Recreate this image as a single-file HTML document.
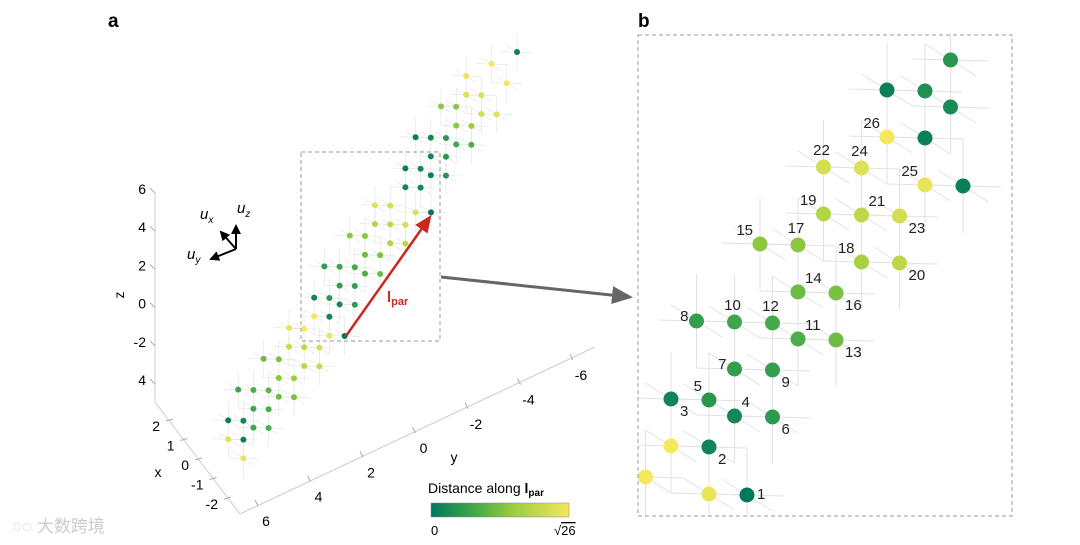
<!DOCTYPE html>
<html><head><meta charset="utf-8"><style>
html,body{margin:0;padding:0;background:#fff;}
svg{display:block;font-family:"Liberation Sans",Arial,sans-serif;}
</style></head><body>
<svg id="fig" width="1080" height="545" viewBox="0 0 1080 545" xmlns="http://www.w3.org/2000/svg">
<defs>
<linearGradient id="cbgrad" x1="0" x2="1" y1="0" y2="0">
<stop offset="0" stop-color="#00785a"/><stop offset="0.3" stop-color="#3da64a"/><stop offset="0.6" stop-color="#9ccd3e"/><stop offset="1" stop-color="#f4e85c"/>
</linearGradient>
<clipPath id="clipB"><rect x="638" y="35" width="374" height="481"/></clipPath>
<marker id="redhead" markerWidth="8" markerHeight="8" refX="6" refY="3" orient="auto"><path d="M0,0 L7,3 L0,6 Z" fill="#c8281e"/></marker>
<marker id="grayhead" markerWidth="8" markerHeight="8" refX="6" refY="3" orient="auto"><path d="M0,0 L7,3 L0,6 Z" fill="#666"/></marker>
<marker id="blackhead" markerWidth="6" markerHeight="6" refX="4" refY="2.5" orient="auto"><path d="M0,0 L5,2.5 L0,5 Z" fill="#000"/></marker>
</defs>
<text x="108" y="27" font-size="19" font-weight="bold">a</text>
<text x="638" y="27" font-size="19" font-weight="bold">b</text>
<g id="gA"></g>
<g id="gB" clip-path="url(#clipB)"></g>
<g id="gBL"></g>
<rect x="638" y="35" width="374" height="481" fill="none" stroke="#999" stroke-dasharray="4,3"/>
<rect x="301" y="152" width="139" height="189" fill="none" stroke="#999" stroke-dasharray="4,3"/>
<line x1="441" y1="277" x2="630" y2="297" stroke="#666" stroke-width="3" marker-end="url(#grayhead)"/>
<g stroke="#000" stroke-width="2">
<line x1="236" y1="249" x2="236" y2="226" marker-end="url(#blackhead)"/>
<line x1="236" y1="249" x2="221" y2="232" marker-end="url(#blackhead)"/>
<line x1="236" y1="249" x2="211" y2="259" marker-end="url(#blackhead)"/>
</g>
<text x="237" y="213" font-size="15" font-style="italic">u<tspan font-size="10" dy="4">z</tspan></text>
<text x="200" y="219" font-size="15" font-style="italic">u<tspan font-size="10" dy="4">x</tspan></text>
<text x="187" y="259" font-size="15" font-style="italic">u<tspan font-size="10" dy="4">y</tspan></text>
<g id="axesA"></g>
<line x1="346" y1="336" x2="430" y2="217" stroke="#c8281e" stroke-width="2.5" marker-end="url(#redhead)"/>
<text x="387" y="302" font-size="15" font-weight="bold" fill="#c8281e">l<tspan font-size="11" dy="3">par</tspan></text>
<g>
<text x="428" y="493" font-size="14">Distance along <tspan font-weight="bold">l</tspan><tspan font-weight="bold" font-size="10" dy="3">par</tspan></text>
<rect x="431" y="503" width="138" height="14" fill="url(#cbgrad)" stroke="#888" stroke-width="0.5"/>
<text x="431" y="535" font-size="13">0</text>
<text x="554" y="535" font-size="13">√<tspan text-decoration="overline">26</tspan></text>
</g>
<text x="12" y="532" font-size="17" fill="#ccc" font-family="'Liberation Sans','Noto Sans CJK SC',sans-serif">◌◌ 大数跨境</text>
</svg>
<script>
// Panel a lattice points (i,j,k) and distance value (0..1 of sqrt26)
const aI=[11,10,9,11,9,10,6,7,10,11,7,8,5,6,7,7,8,6,7,5,6,6,7,5,6,3,4,5,4,3,4,5,0,1,4,5,1,2,-1,0,1,1,2,0,1,-1,0,0,1,-1,0,-4,-1,0,1,-4,-3,-2,-5,-4,-3,-2,-4,-3,-6,-5,-4,-4,-3,-5,-4,-8,-7,-5,-4,-8,-7,-7];
const aJ=[14,13,12,12,11,11,11,11,10,10,10,10,9,9,9,9,9,8,8,7,7,7,7,6,6,5,5,5,6,4,4,4,4,4,3,3,3,3,2,2,2,2,2,1,1,0,0,0,0,-1,-1,-1,-2,-2,-2,-2,-2,-2,-3,-3,-3,-3,-4,-4,-5,-5,-5,-5,-5,-6,-6,-6,-6,-7,-7,-7,-7,-8];
const aK=[2,1,0,1,0,0,2,2,0,0,2,2,1,1,1,2,2,1,1,0,0,1,1,0,0,0,0,1,4,0,0,0,2,2,0,0,2,2,1,1,1,2,2,1,1,0,0,1,1,0,0,2,-1,0,0,2,2,2,1,1,2,2,1,1,0,0,0,1,1,0,0,2,2,0,0,2,2,2];
const aVal=[0.05,1,0.95,1,0.9,0.9,0.55,0.55,0.85,0.9,0.55,0.6,0.05,0.1,0.2,0.3,0.35,0.1,0.2,0.05,0.1,0.05,0.2,0.1,0.1,0.9,0.85,0.9,0,0.7,0.75,0.85,0.55,0.55,0.7,0.75,0.45,0.5,0.25,0.3,0.32,0.35,0.45,0.25,0.25,0.08,0.2,0.1,0.22,1,0.08,0.95,1,0.95,0,0.8,0.75,0.85,0.45,0.5,0.75,0.8,0.55,0.6,0.3,0.35,0.4,0.45,0.5,0.3,0.35,0.05,0.1,0.3,0.35,0.9,0.05,0.95];
// Panel b (zoomed region) points
const bLabel=["1","2","3","4","5","6","7","8","9","10","11","12","13","14","15","16","17","18","19","20","21","22","23","24","25","26","","","","","","","","",""];
const bI=[1,0,-1,0,0,1,0,-1,1,0,1,1,2,1,0,2,1,2,1,3,2,1,3,2,3,2,-1,-1,0,2,3,3,3,3,4];
const bJ=[-2,-1,0,0,0,0,1,2,1,2,2,2,2,3,4,3,4,4,5,4,5,6,5,6,6,7,-1,-2,-2,8,8,9,8,7,6];
const bK=[0,0,0,1,0,1,1,1,1,1,2,1,2,2,2,2,2,3,3,3,3,3,3,3,4,4,0,-1,0,4,4,5,5,4,4];
const bVal=[0,0.08,0.08,0.1,0.2,0.22,0.25,0.25,0.25,0.3,0.35,0.32,0.45,0.45,0.55,0.5,0.55,0.65,0.7,0.75,0.75,0.85,0.85,0.9,0.95,1,1,1,0.95,0.05,0.15,0.2,0.12,0.05,0.05];
const bLabPos=["r","dr","dr","ur","ul","dr","l","l","dr","u","ur","u","dr","ur","ul","dr","u","ul","ul","dr","ur","u","dr","u","ul","ul","","","","","","","","",""];
// axis tick labels
const zTicks=["6","4","2","0","-2","4"];
const xTicks=["2","1","0","-1","-2"];
const yTicks=["6","4","2","0","-2","-4","-6"];

const NS="http://www.w3.org/2000/svg";
function mk(tag,attrs,parent){const e=document.createElementNS(NS,tag);for(const k in attrs)e.setAttribute(k,attrs[k]);parent.appendChild(e);return e;}
const stops=[[0,[0,120,90]],[0.3,[61,166,74]],[0.6,[156,205,62]],[1,[244,232,92]]];
function cmap(v){v=Math.max(0,Math.min(1,v));for(let s=1;s<stops.length;s++){if(v<=stops[s][0]){const a=stops[s-1],b=stops[s];const t=(v-a[0])/(b[0]-a[0]);const c=a[1].map((x,i)=>Math.round(x+(b[1][i]-x)*t));return`rgb(${c})`;}}return"rgb(244,232,92)";}
// projections (axis functions)
function projA(i,j,k){return[329.4+15.2*i+10.2*k,298+0.4*i-18.8*j+6.4*k];}
function projB(i,j,k){return[709+38*i+25.5*k,400+1*i-47*j+16*k];}

function drawLattice(g,I,J,K,proj,w){
  const dirs=[[1,0,0],[0,1,0],[0,0,1]];
  for(let n=0;n<I.length;n++){for(const d of dirs){
    const p=proj(I[n]-d[0],J[n]-d[1],K[n]-d[2]),q=proj(I[n]+d[0],J[n]+d[1],K[n]+d[2]);
    const l=mk('line',{x1:p[0],y1:p[1],x2:q[0],y2:q[1],stroke:'#e2e2e2','stroke-width':w},g);
    
    
  }}
}
const gA=document.getElementById('gA');
drawLattice(gA,aI,aJ,aK,projA,0.6);
for(let n=0;n<aI.length;n++){const p=projA(aI[n],aJ[n],aK[n]);
  const c=mk('circle',{cx:p[0],cy:p[1],r:3,fill:cmap(aVal[n])},gA);
  
  }
const gB=document.getElementById('gB'),gBL=document.getElementById('gBL');
drawLattice(gB,bI,bJ,bK,projB,1);
const off={r:[10,4,'start'],dr:[9,17,'start'],ur:[7,-9,'start'],ul:[-7,-9,'end'],l:[-8,0,'end'],u:[-2,-12,'middle']};
for(let n=0;n<bI.length;n++){const p=projB(bI[n],bJ[n],bK[n]);
  const c=mk('circle',{cx:p[0],cy:p[1],r:7.5,fill:cmap(bVal[n])},gB);
  
  
  if(bLabel[n]){const o=off[bLabPos[n]];
    const t=mk('text',{x:p[0]+o[0],y:p[1]+o[1],'font-size':15,'text-anchor':o[2],fill:'#222'},gBL);t.textContent=bLabel[n];
    
    }
}
// panel a axes
const ax=document.getElementById('axesA');
mk('line',{x1:155,y1:193,x2:155,y2:402,stroke:'#ccc'},ax);
mk('line',{x1:155,y1:402,x2:240,y2:514,stroke:'#ccc'},ax);
mk('line',{x1:240,y1:514,x2:595,y2:347,stroke:'#ccc'},ax);
function zPos(n){return 192+n*38.2;}
zTicks.forEach((s,n)=>{const y=zPos(n);mk('line',{x1:150,y1:y-4,x2:155,y2:y+1,stroke:'#aaa'},ax);
  const t=mk('text',{x:146,y:y+2,'font-size':14,'text-anchor':'end'},ax);t.textContent=s;
  
  });
xTicks.forEach((s,n)=>{const x=166+n*14.5,y=425+n*19.5;mk('line',{x1:x,y1:y-4,x2:x+7,y2:y-6,stroke:'#aaa'},ax);
  const t=mk('text',{x:x-6,y:y+6,'font-size':14,'text-anchor':'end'},ax);t.textContent=s;
  
  });
yTicks.forEach((s,n)=>{const x=258+n*52.5,y=506-n*24.3;mk('line',{x1:x,y1:y,x2:x-3,y2:y-6,stroke:'#aaa'},ax);
  const t=mk('text',{x:x+8,y:y+20,'font-size':14,'text-anchor':'middle'},ax);t.textContent=s;
  
  });
const zl=mk('text',{x:124,y:295,'font-size':14,'text-anchor':'middle',transform:'rotate(-90 124 295)'},ax);zl.textContent='z';


const xl=mk('text',{x:158,y:477,'font-size':14,'text-anchor':'middle'},ax);xl.textContent='x';


const yl=mk('text',{x:454,y:462,'font-size':14,'text-anchor':'middle'},ax);yl.textContent='y';


</script>
</body></html>
